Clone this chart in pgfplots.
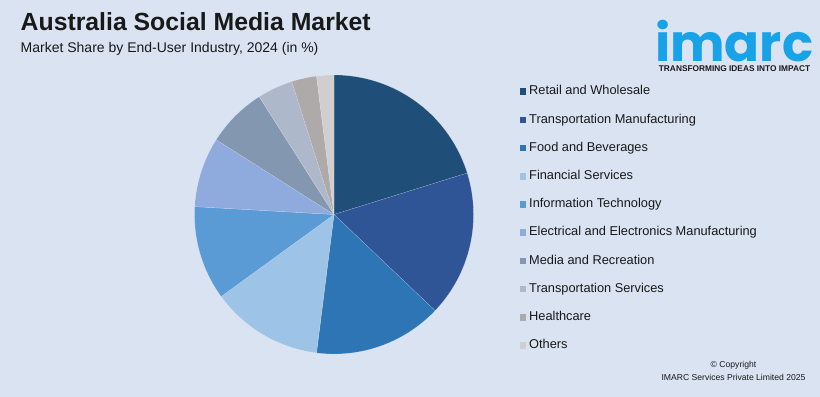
\documentclass[border=0pt]{standalone}
\usepackage{fontspec}
\setmainfont{Liberation Sans}
\newfontfamily\logofont{Poppins}
\usepackage{graphicx}
\usepackage{pgfplots}
\usepackage{pgfplotstable}
\pgfplotsset{compat=1.18}

\definecolor{bg}{RGB}{218,227,242}
\definecolor{txt}{RGB}{25,25,25}
\definecolor{logoblue}{RGB}{24,162,232}
\definecolor{c0}{HTML}{1F4E79}
\definecolor{c1}{HTML}{2F5597}
\definecolor{c2}{HTML}{2E75B6}
\definecolor{c3}{HTML}{9DC3E6}
\definecolor{c4}{HTML}{5B9BD5}
\definecolor{c5}{HTML}{8FAADC}
\definecolor{c6}{HTML}{8497B0}
\definecolor{c7}{HTML}{ADB9CA}
\definecolor{c8}{HTML}{AEAAAA}
\definecolor{c9}{HTML}{D0CECE}

\pgfplotstableread[col sep=comma]{
label,value
Retail and Wholesale,20.2
Transportation Manufacturing,16.9
Food and Beverages,14.9
Financial Services,13.0
Information Technology,10.9
Electrical and Electronics Manufacturing,8.1
Media and Recreation,7.0
Transportation Services,4.1
Healthcare,2.9
Others,2.0
}\piedata

% cumulative angles, clockwise from the top
\def\curang{90}
\pgfplotsforeachungrouped \i in {0,...,9}{%
  \pgfplotstablegetelem{\i}{value}\of\piedata
  \pgfmathsetmacro\nextang{\curang-3.6*\pgfplotsretval}%
  \expandafter\xdef\csname s\i\endcsname{\curang}%
  \expandafter\xdef\csname e\i\endcsname{\nextang}%
  \xdef\curang{\nextang}%
}

\newcommand\slice[2]{%
  \edef\tmp{\noexpand\addplot[fill=#2, draw=white, draw opacity=0.35, line width=0.3pt,
    domain=\csname e#1\endcsname:\csname s#1\endcsname, samples=72]
    ({cos(x)},{sin(x)}) -- (axis cs:0,0) -- cycle;}\tmp}

\begin{document}
\begin{tikzpicture}
\useasboundingbox (0,0) rectangle (820bp,397bp);
\fill[bg] (0,0) rectangle (820bp,397bp);

\begin{axis}[at={(334bp,182.5bp)}, anchor=center,
  width=279bp, height=279bp, scale only axis, hide axis,
  xmin=-1, xmax=1, ymin=-1, ymax=1, clip=false]
\slice{0}{c0}
\slice{1}{c1}
\slice{2}{c2}
\slice{3}{c3}
\slice{4}{c4}
\slice{5}{c5}
\slice{6}{c6}
\slice{7}{c7}
\slice{8}{c8}
\slice{9}{c9}
\end{axis}

% title
\node[anchor=base west, inner sep=0, text=txt,
  font=\fontsize{24.8bp}{28bp}\selectfont\bfseries] at (20.5bp,366.3bp)
  {Australia Social Media Market};
\node[anchor=base west, inner sep=0, text=txt,
  font=\fontsize{14bp}{16bp}\selectfont] at (20.5bp,344.7bp)
  {Market Share by End-User Industry, 2024 (in \%)};

% legend
\foreach \i/\name/\col in {0/Retail and Wholesale/c0,
  1/Transportation Manufacturing/c1,
  2/Food and Beverages/c2,
  3/Financial Services/c3,
  4/Information Technology/c4,
  5/Electrical and Electronics Manufacturing/c5,
  6/Media and Recreation/c6,
  7/Transportation Services/c7,
  8/Healthcare/c8,
  9/Others/c9}{
  \pgfmathsetmacro\yb{397-95-28.2*\i}
  \fill[\col] (519.5bp,\yb bp) rectangle ++(6.5bp,6.5bp);
  \node[anchor=base west, inner sep=0, text=txt,
    font=\fontsize{12.8bp}{15bp}\selectfont] at (529bp,\yb bp) {\name};
}

% logo
\node[anchor=base west, inner sep=0, text=logoblue] at (655bp,335bp)
  {\resizebox{158bp}{!}{\logofont\bfseries imarc}};
\node[anchor=base west, inner sep=0, text=txt] at (658.7bp,325.3bp)
  {\resizebox{151.3bp}{!}{\bfseries TRANSFORMING IDEAS INTO IMPACT}};

% copyright
\node[anchor=base, inner sep=0, text=txt,
  font=\fontsize{8.6bp}{10bp}\selectfont] at (733.5bp,29.3bp)
  {\textcopyright{} Copyright};
\node[anchor=base, inner sep=0, text=txt,
  font=\fontsize{8.6bp}{10bp}\selectfont] at (733.5bp,17bp)
  {IMARC Services Private Limited 2025};
\end{tikzpicture}
\end{document}
